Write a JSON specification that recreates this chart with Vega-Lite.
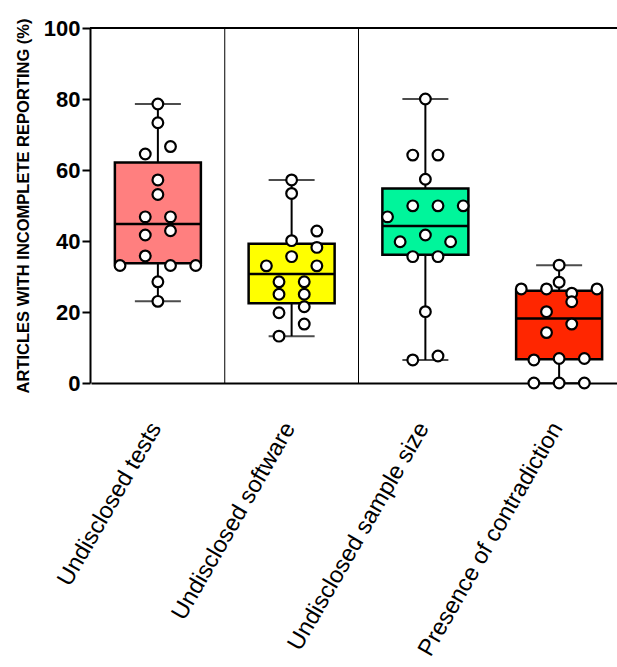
{
  "$schema": "https://vega.github.io/schema/vega-lite/v6.json",
  "width": 527,
  "height": 355,
  "autosize": {"type": "none"},
  "padding": {"left": 90, "top": 28, "right": 0, "bottom": 284},
  "background": "white",
  "config": {
    "view": {"stroke": null},
    "font": "Liberation Sans"
  },
  "datasets": {
    "pts": [
      {"cat": "Undisclosed tests", "pct": 78.6, "col": 0},
      {"cat": "Undisclosed tests", "pct": 73.3, "col": 0},
      {"cat": "Undisclosed tests", "pct": 66.6, "col": 1},
      {"cat": "Undisclosed tests", "pct": 64.5, "col": -1},
      {"cat": "Undisclosed tests", "pct": 57.2, "col": 0},
      {"cat": "Undisclosed tests", "pct": 53.1, "col": 0},
      {"cat": "Undisclosed tests", "pct": 46.8, "col": -1},
      {"cat": "Undisclosed tests", "pct": 46.8, "col": 1},
      {"cat": "Undisclosed tests", "pct": 42.9, "col": 1},
      {"cat": "Undisclosed tests", "pct": 41.7, "col": -1},
      {"cat": "Undisclosed tests", "pct": 35.8, "col": -1},
      {"cat": "Undisclosed tests", "pct": 33.1, "col": -3},
      {"cat": "Undisclosed tests", "pct": 33.1, "col": 1},
      {"cat": "Undisclosed tests", "pct": 33.1, "col": 3},
      {"cat": "Undisclosed tests", "pct": 28.5, "col": 0},
      {"cat": "Undisclosed tests", "pct": 23.0, "col": 0},
      {"cat": "Undisclosed software", "pct": 57.2, "col": 0},
      {"cat": "Undisclosed software", "pct": 53.4, "col": 0},
      {"cat": "Undisclosed software", "pct": 42.8, "col": 2},
      {"cat": "Undisclosed software", "pct": 40.1, "col": 0},
      {"cat": "Undisclosed software", "pct": 38.2, "col": 2},
      {"cat": "Undisclosed software", "pct": 35.6, "col": 0},
      {"cat": "Undisclosed software", "pct": 33.0, "col": -2},
      {"cat": "Undisclosed software", "pct": 33.0, "col": 2},
      {"cat": "Undisclosed software", "pct": 28.5, "col": -1},
      {"cat": "Undisclosed software", "pct": 28.5, "col": 1},
      {"cat": "Undisclosed software", "pct": 25.0, "col": -1},
      {"cat": "Undisclosed software", "pct": 25.0, "col": 1},
      {"cat": "Undisclosed software", "pct": 21.5, "col": 1},
      {"cat": "Undisclosed software", "pct": 19.8, "col": -1},
      {"cat": "Undisclosed software", "pct": 16.6, "col": 1},
      {"cat": "Undisclosed software", "pct": 13.2, "col": -1},
      {"cat": "Undisclosed sample size", "pct": 80.0, "col": 0},
      {"cat": "Undisclosed sample size", "pct": 64.2, "col": -1},
      {"cat": "Undisclosed sample size", "pct": 64.2, "col": 1},
      {"cat": "Undisclosed sample size", "pct": 57.4, "col": 0},
      {"cat": "Undisclosed sample size", "pct": 49.9, "col": -1},
      {"cat": "Undisclosed sample size", "pct": 49.9, "col": 1},
      {"cat": "Undisclosed sample size", "pct": 49.9, "col": 3},
      {"cat": "Undisclosed sample size", "pct": 46.8, "col": -3},
      {"cat": "Undisclosed sample size", "pct": 41.7, "col": 0},
      {"cat": "Undisclosed sample size", "pct": 39.8, "col": -2},
      {"cat": "Undisclosed sample size", "pct": 39.8, "col": 2},
      {"cat": "Undisclosed sample size", "pct": 35.6, "col": -1},
      {"cat": "Undisclosed sample size", "pct": 35.6, "col": 1},
      {"cat": "Undisclosed sample size", "pct": 20.1, "col": 0},
      {"cat": "Undisclosed sample size", "pct": 6.5, "col": -1},
      {"cat": "Undisclosed sample size", "pct": 7.6, "col": 1},
      {"cat": "Presence of contradiction", "pct": 33.2, "col": 0},
      {"cat": "Presence of contradiction", "pct": 28.4, "col": 0},
      {"cat": "Presence of contradiction", "pct": 26.5, "col": -3},
      {"cat": "Presence of contradiction", "pct": 26.5, "col": -1},
      {"cat": "Presence of contradiction", "pct": 26.5, "col": 3},
      {"cat": "Presence of contradiction", "pct": 25.3, "col": 1},
      {"cat": "Presence of contradiction", "pct": 22.9, "col": 1},
      {"cat": "Presence of contradiction", "pct": 20.1, "col": -1},
      {"cat": "Presence of contradiction", "pct": 16.6, "col": 1},
      {"cat": "Presence of contradiction", "pct": 14.2, "col": -1},
      {"cat": "Presence of contradiction", "pct": 6.5, "col": -2},
      {"cat": "Presence of contradiction", "pct": 6.9, "col": 0},
      {"cat": "Presence of contradiction", "pct": 6.9, "col": 2},
      {"cat": "Presence of contradiction", "pct": 0, "col": -2},
      {"cat": "Presence of contradiction", "pct": 0, "col": 0},
      {"cat": "Presence of contradiction", "pct": 0, "col": 2}
    ],
    "stats": [
      {"cat": "Undisclosed tests", "min": 23.0, "q1": 33.7, "median": 44.8, "q3": 62.1, "max": 78.6},
      {"cat": "Undisclosed software", "min": 13.2, "q1": 22.5, "median": 30.7, "q3": 39.2, "max": 57.2},
      {"cat": "Undisclosed sample size", "min": 6.5, "q1": 36.1, "median": 44.2, "q3": 54.8, "max": 80.0},
      {"cat": "Presence of contradiction", "min": 0, "q1": 6.7, "median": 18.2, "q3": 26.0, "max": 33.2}
    ]
  },
  "layer": [
    {
      "data": {"name": "stats"},
      "transform": [{"filter": "datum.cat !== 'Undisclosed tests' && datum.cat !== 'Presence of contradiction'"}],
      "mark": {"type": "rule", "color": "black", "strokeWidth": 1},
      "encoding": {
        "x": {
          "field": "cat",
          "type": "nominal",
          "bandPosition": 0,
          "sort": ["Undisclosed tests", "Undisclosed software", "Undisclosed sample size", "Presence of contradiction"],
          "scale": {"domain": ["Undisclosed tests", "Undisclosed software", "Undisclosed sample size", "Presence of contradiction"], "range": [1, 536], "paddingInner": 0, "paddingOuter": 0},
          "axis": {
            "title": null,
            "domain": true,
            "domainColor": "black",
            "domainWidth": 2,
            "ticks": false,
            "labelAngle": -60,
            "labelAlign": "right",
            "labelBaseline": "middle",
            "labelFontSize": 23.5,
            "labelColor": "black",
            "labelPadding": 41,
            "labelOffset": -2,
            "labelLimit": 0,
            "labelFont": "Liberation Sans"
          }
        },
        "y": {"datum": 0, "type": "quantitative", "scale": {"domain": [0, 100]}},
        "y2": {"datum": 100}
      }
    },
    {
      "data": {"name": "stats"},
      "mark": {"type": "rule", "color": "black", "strokeWidth": 2},
      "encoding": {
        "y": {"datum": 100, "type": "quantitative"}
      }
    },
    {
      "data": {"name": "stats"},
      "mark": {"type": "rule", "color": "black", "strokeWidth": 2},
      "encoding": {
        "x": {"field": "cat", "type": "nominal"},
        "y": {
          "field": "min",
          "type": "quantitative",
          "axis": {
            "title": "ARTICLES WITH INCOMPLETE REPORTING (%)",
            "titleFontSize": 16.5,
            "titleFontWeight": "bold",
            "titleColor": "black",
            "titleFont": "Liberation Sans",
            "titlePadding": 12,
            "values": [0, 20, 40, 60, 80, 100],
            "grid": false,
            "domainColor": "black",
            "domainWidth": 2,
            "tickColor": "black",
            "tickWidth": 2,
            "tickSize": 8,
            "labelFontSize": 22,
            "labelFontWeight": "bold",
            "labelColor": "black",
            "labelPadding": 2,
            "labelFont": "Liberation Sans"
          }
        },
        "y2": {"field": "max"}
      }
    },
    {
      "data": {"name": "stats"},
      "mark": {"type": "tick", "color": "black", "thickness": 2, "size": 46},
      "encoding": {"x": {"field": "cat", "type": "nominal"}, "y": {"field": "min", "type": "quantitative"}}
    },
    {
      "data": {"name": "stats"},
      "mark": {"type": "tick", "color": "black", "thickness": 2, "size": 46},
      "encoding": {"x": {"field": "cat", "type": "nominal"}, "y": {"field": "max", "type": "quantitative"}}
    },
    {
      "data": {"name": "stats"},
      "mark": {"type": "bar", "width": 86, "stroke": "black", "strokeWidth": 2.5},
      "encoding": {
        "x": {"field": "cat", "type": "nominal"},
        "y": {"field": "q1", "type": "quantitative"},
        "y2": {"field": "q3"},
        "fill": {
          "field": "cat",
          "type": "nominal",
          "scale": {
            "domain": ["Undisclosed tests", "Undisclosed software", "Undisclosed sample size", "Presence of contradiction"],
            "range": ["#FF7F7F", "#FFFF00", "#00F59B", "#FF2600"]
          },
          "legend": null
        }
      }
    },
    {
      "data": {"name": "stats"},
      "mark": {"type": "tick", "color": "black", "thickness": 2.5, "size": 86, "opacity": 1},
      "encoding": {"x": {"field": "cat", "type": "nominal"}, "y": {"field": "median", "type": "quantitative"}}
    },
    {
      "data": {"name": "pts"},
      "mark": {"type": "point", "shape": "circle", "filled": false, "fill": "white", "fillOpacity": 1, "stroke": "black", "strokeWidth": 2.2, "opacity": 1, "size": 115},
      "encoding": {
        "x": {"field": "cat", "type": "nominal"},
        "y": {"field": "pct", "type": "quantitative"},
        "xOffset": {
          "field": "col",
          "type": "ordinal",
          "scale": {"type": "point", "domain": [-5, -4, -3, -2, -1, 0, 1, 2, 3, 4, 5], "padding": 0.3}
        }
      }
    }
  ]
}
